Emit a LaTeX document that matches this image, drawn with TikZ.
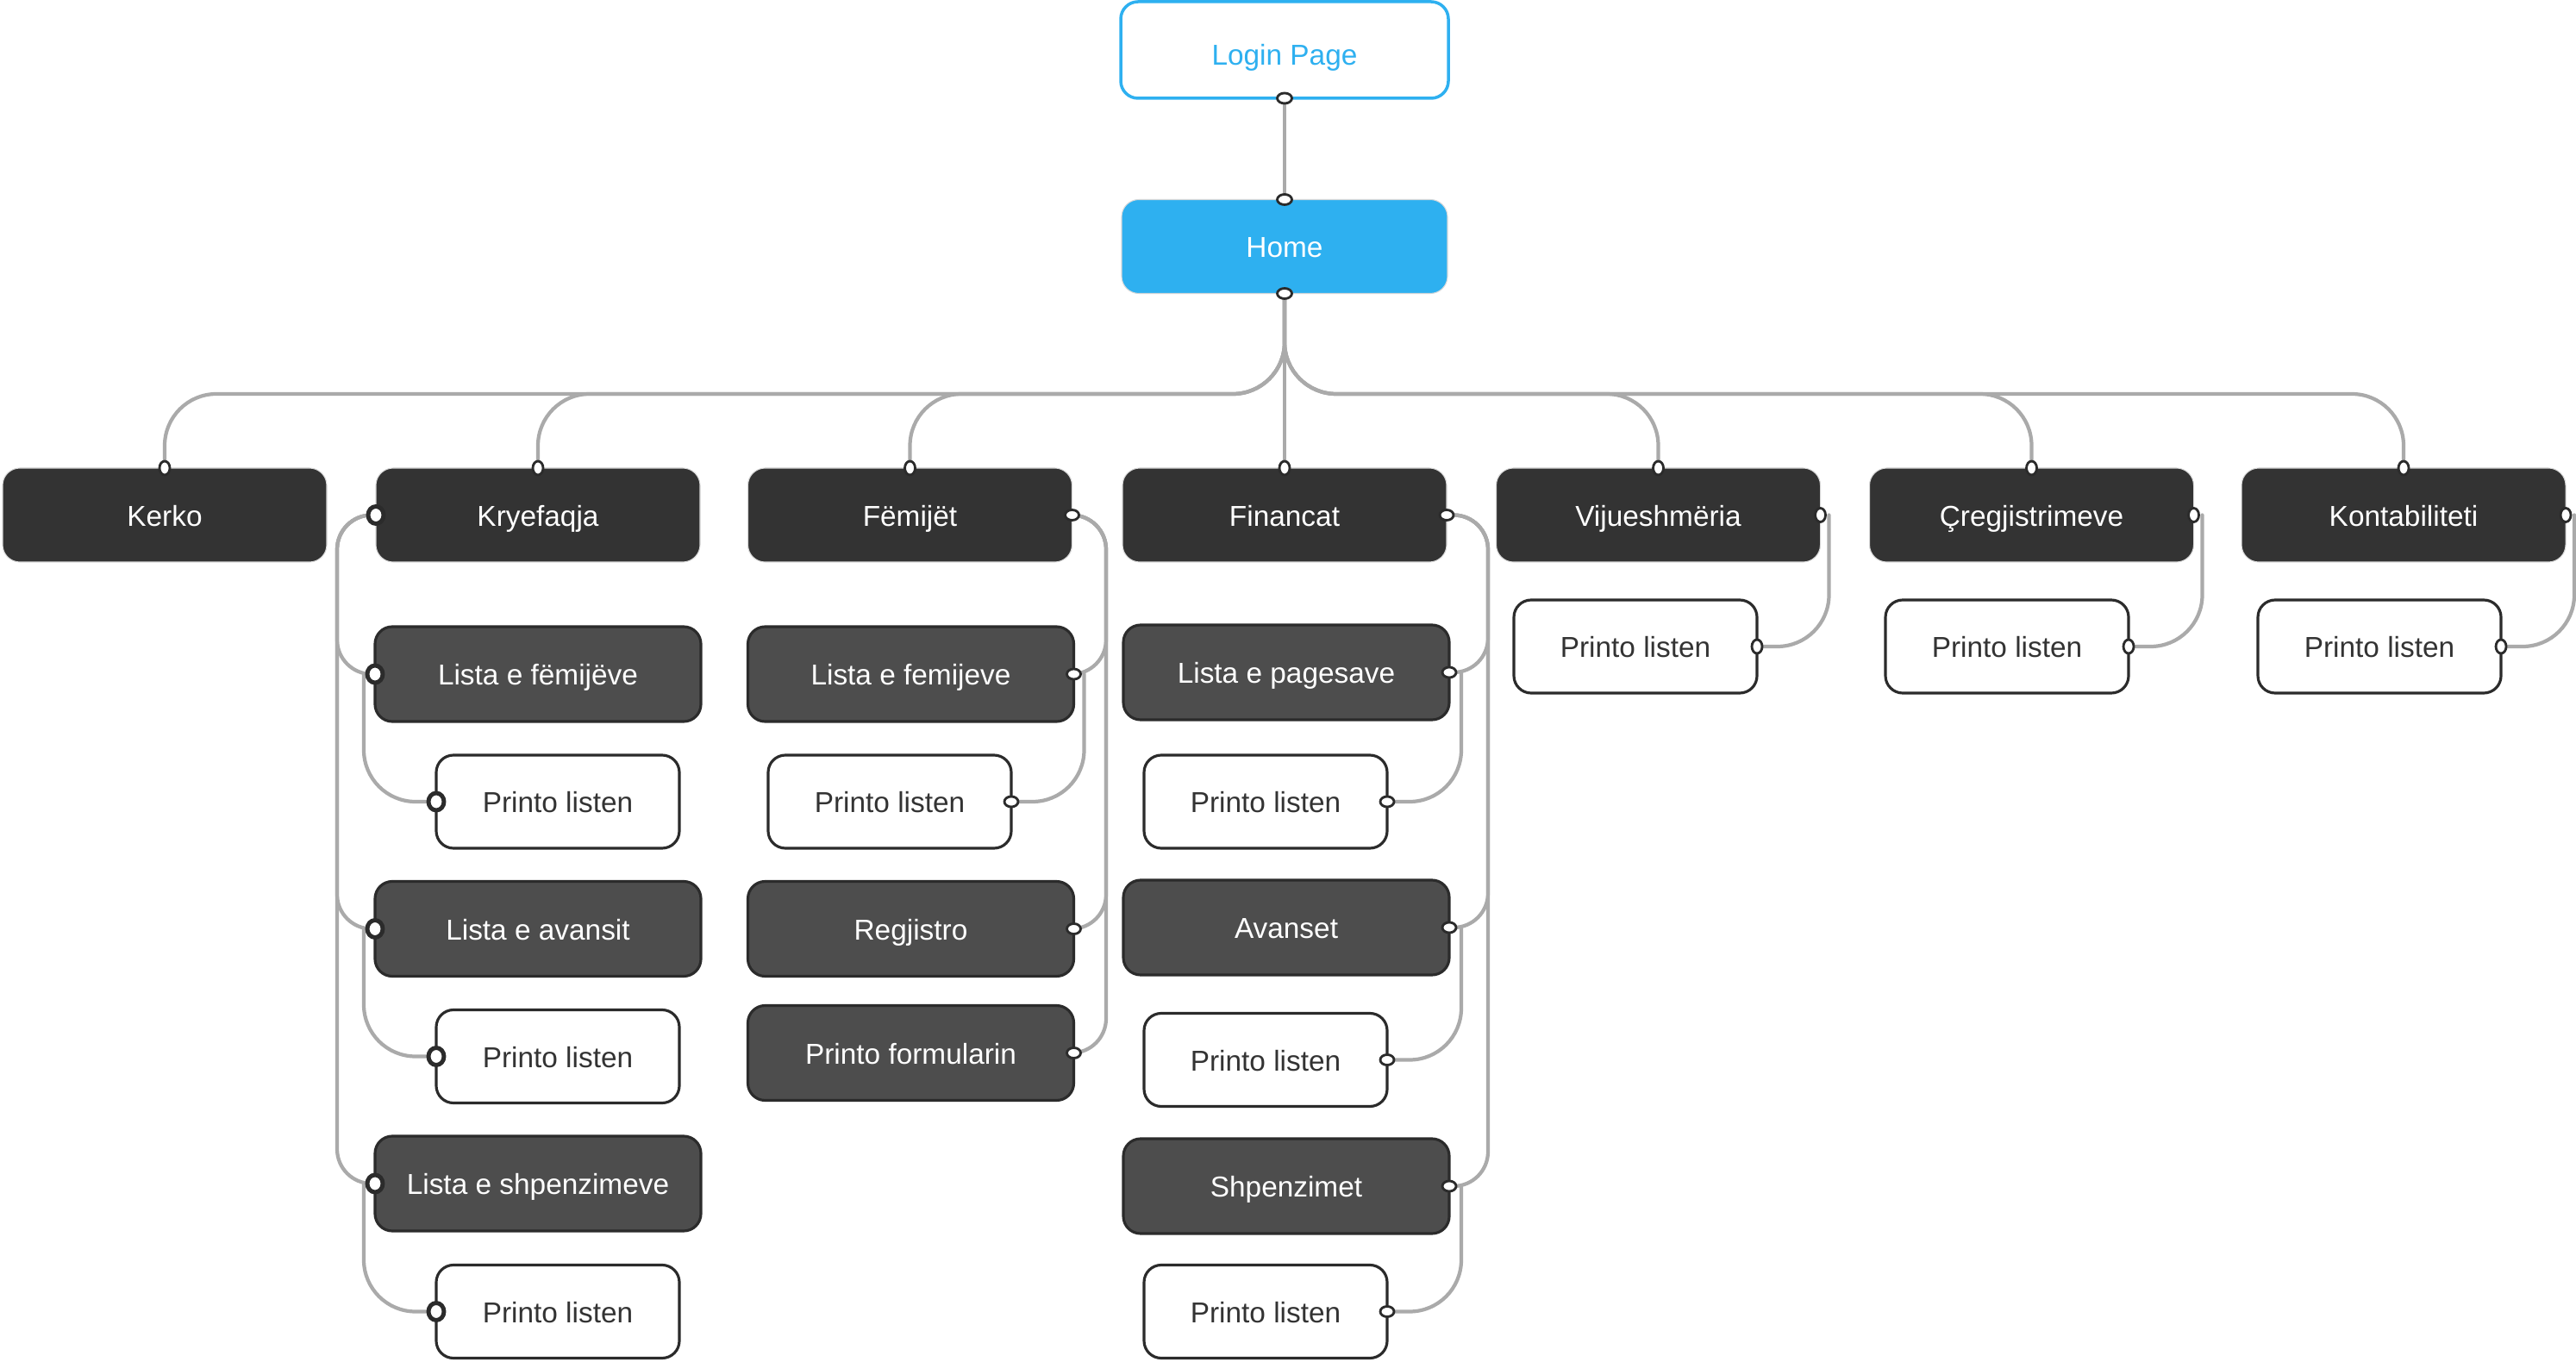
\documentclass[tikz,border=0pt]{standalone}
\usepackage{fontspec}
\setmainfont{Liberation Sans}
\usepackage{tikz}
\definecolor{loginBlue}{RGB}{46,176,240}
\definecolor{topDark}{RGB}{51,51,51}
\definecolor{subDark}{RGB}{77,77,77}
\definecolor{edgeDark}{RGB}{43,43,43}
\definecolor{linkGray}{RGB}{170,170,170}
\definecolor{leafText}{RGB}{51,51,51}
\tikzset{box/.style={rounded corners=0.2cm,minimum height=1.09cm,inner sep=0pt,outer sep=0pt,text height=0.72em,text depth=0pt,font=\fontsize{9.5}{11}\selectfont},
 login/.style={box,draw=loginBlue,line width=1pt,fill=white,text=loginBlue,minimum width=3.80cm,minimum height=1.12cm},
 home/.style={box,fill=loginBlue,draw=white!85!black,line width=.3pt,text=white,minimum width=3.78cm},
 section/.style={box,fill=topDark,draw=white!85!black,line width=.3pt,text=white,minimum width=3.76cm},
 page/.style={box,fill=subDark,draw=edgeDark,line width=.9pt,text=white,minimum width=3.78cm,minimum height=1.10cm},
 leaf/.style={box,fill=white,draw=edgeDark,line width=.9pt,text=leafText,minimum width=2.82cm,minimum height=1.08cm},
 link/.style={draw=linkGray,line width=1.2pt,rounded corners=0.4cm},
 port/.style={fill=white,draw=edgeDark,line width=.8pt},
 every picture/.style={line join=round,line cap=round}}
\begin{document}
\begin{tikzpicture}[]
\useasboundingbox (0,0) rectangle (29.880,-15.800);
\node[login,text height=9.7pt] (login) at (14.900,-0.580) {Login Page};
\node[home] (home) at (14.900,-2.860) {Home};
\node[section] (kerko) at (1.910,-5.975) {Kerko};
\node[section] (kryefaqja) at (6.240,-5.975) {Kryefaqja};
\node[section] (femijet) at (10.555,-5.975) {Fëmijët};
\node[section] (financat) at (14.900,-5.975) {Financat};
\node[section] (vijueshmeria) at (19.235,-5.975) {Vijueshmëria};
\node[section] (cregjistrimeve) at (23.565,-5.975) {Çregjistrimeve};
\node[section] (kontabiliteti) at (27.880,-5.975) {Kontabiliteti};
% Kryefaqja
\node[page] (listaFemijeve) at (6.240,-7.820) {Lista e fëmijëve};
\node[leaf] (printoA) at (6.470,-9.300) {Printo listen};
\node[page] (listaAvansit) at (6.240,-10.775) {Lista e avansit};
\node[leaf] (printoB) at (6.470,-12.255) {Printo listen};
\node[page] (listaShpenzimeve) at (6.240,-13.730) {Lista e shpenzimeve};
\node[leaf] (printoC) at (6.470,-15.215) {Printo listen};
% Femijet
\node[page] (listaFem) at (10.565,-7.820) {Lista e femijeve};
\node[leaf] (printoD) at (10.320,-9.300) {Printo listen};
\node[page] (regjistro) at (10.565,-10.775) {Regjistro};
\node[page] (printoFormularin) at (10.565,-12.215) {Printo formularin};
% Financat
\node[page] (listaPagesave) at (14.920,-7.800) {Lista e pagesave};
\node[leaf] (printoE) at (14.680,-9.300) {Printo listen};
\node[page] (avanset) at (14.920,-10.760) {Avanset};
\node[leaf] (printoF) at (14.680,-12.295) {Printo listen};
\node[page] (shpenzimet) at (14.920,-13.760) {Shpenzimet};
\node[leaf] (printoG) at (14.680,-15.215) {Printo listen};
% right columns
\node[leaf] (printoH) at (18.970,-7.500) {Printo listen};
\node[leaf] (printoI) at (23.280,-7.500) {Printo listen};
\node[leaf] (printoJ) at (27.600,-7.500) {Printo listen};
% links
\draw[link] (login.south) -- (home.north);
\draw[link] (home.south) -- (financat.north);
\coordinate (bus) at (14.900,-4.570);
\foreach \n in {kerko,kryefaqja,femijet,vijueshmeria,cregjistrimeve,kontabiliteti}
  \draw[link,rounded corners=0.6cm] (home.south) -- (bus) -| (\n.north);
\coordinate (kryBus) at (3.910,-5.975);
\foreach \n in {listaFemijeve,listaAvansit,listaShpenzimeve}
  \draw[link] (kryefaqja.west) -| (kryBus |- \n.west) -- (\n.west);
\draw[link,rounded corners=0.6cm] ([xshift=-0.13cm]listaFemijeve.west) |- (printoA.west);
\draw[link,rounded corners=0.6cm] ([xshift=-0.13cm]listaAvansit.west) |- (printoB.west);
\draw[link,rounded corners=0.6cm] ([xshift=-0.13cm]listaShpenzimeve.west) |- (printoC.west);
\coordinate (femBus) at (12.830,-5.975);
\foreach \n in {listaFem,regjistro,printoFormularin}
  \draw[link] (femijet.east) -| (femBus |- \n.east) -- (\n.east);
\draw[link,rounded corners=0.6cm] ([xshift=0.12cm]listaFem.east) |- (printoD.east);
\coordinate (finBus) at (17.260,-5.975);
\foreach \n in {listaPagesave,avanset,shpenzimet}
  \draw[link] (financat.east) -| (finBus |- \n.east) -- (\n.east);
\draw[link,rounded corners=0.6cm] ([xshift=0.14cm]listaPagesave.east) |- (printoE.east);
\draw[link,rounded corners=0.6cm] ([xshift=0.14cm]avanset.east) |- (printoF.east);
\draw[link,rounded corners=0.6cm] ([xshift=0.14cm]shpenzimet.east) |- (printoG.east);
\draw[link,rounded corners=0.6cm] ([xshift=0.10cm]vijueshmeria.east) |- (printoH.east);
\draw[link,rounded corners=0.6cm] ([xshift=0.10cm]cregjistrimeve.east) |- (printoI.east);
\draw[link,rounded corners=0.6cm] ([xshift=0.10cm]kontabiliteti.east) |- (printoJ.east);
% ports
\foreach \p in {login.south,home.north,home.south}
  \path[port] (\p) ellipse[x radius=0.085cm,y radius=0.06cm];
\foreach \p in {kerko.north,kryefaqja.north,femijet.north,financat.north,vijueshmeria.north,cregjistrimeve.north,kontabiliteti.north}
  \path[port] (\p) ellipse[x radius=0.06cm,y radius=0.08cm];
\foreach \p in {kryefaqja.west,listaFemijeve.west,printoA.west,listaAvansit.west,printoB.west,listaShpenzimeve.west,printoC.west}
  \path[port,line width=1.4pt] (\p) ellipse[x radius=0.09cm,y radius=0.1cm];
\foreach \p in {femijet.east,listaFem.east,printoD.east,regjistro.east,printoFormularin.east,financat.east,listaPagesave.east,printoE.east,avanset.east,printoF.east,shpenzimet.east,printoG.east}
  \path[port] (\p) ellipse[x radius=0.08cm,y radius=0.06cm];
\foreach \p in {vijueshmeria.east,printoH.east,cregjistrimeve.east,printoI.east,kontabiliteti.east,printoJ.east}
  \path[port] (\p) ellipse[x radius=0.06cm,y radius=0.08cm];
\end{tikzpicture}
\end{document}
